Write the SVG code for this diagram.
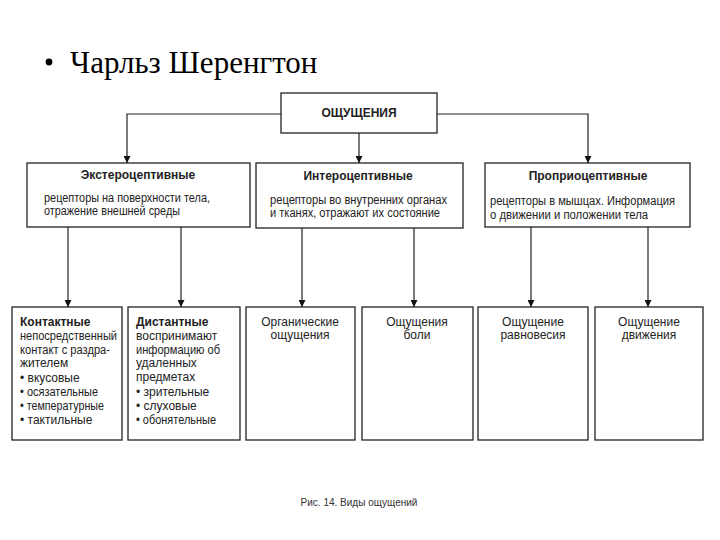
<svg xmlns="http://www.w3.org/2000/svg" width="720" height="540" viewBox="0 0 720 540">
<defs>
<marker id="ah" viewBox="0 0 10 10" refX="10" refY="5" markerWidth="7" markerHeight="7" markerUnits="userSpaceOnUse" orient="auto">
<path d="M0,0 L10,5 L0,10 z" fill="#111"/>
</marker>
<style>
.box{fill:#fff;stroke:#222;stroke-width:1.3}
.ln{fill:none;stroke:#222;stroke-width:1.2;marker-end:url(#ah)}
.t{font-family:"Liberation Sans Narrow","Liberation Sans",Arial,sans-serif;font-size:12px;fill:#222}
.b{font-weight:bold}
.m{text-anchor:middle}
</style>
</defs>
<rect width="720" height="540" fill="#fff"/>
<g id="title">
<circle cx="49" cy="62" r="3.4" fill="#000"/>
<text x="70" y="73" font-family="Liberation Serif,Times New Roman,serif" font-size="31" fill="#000">Чарльз Шеренгтон</text>
</g>
<g id="connectors">
<path class="ln" d="M281,114 H127 V163"/>
<path class="ln" d="M437,114 H588 V163"/>
<path class="ln" d="M359,133 V163"/>
<path class="ln" d="M68,227 V307"/>
<path class="ln" d="M181,227 V307"/>
<path class="ln" d="M302,228 V307"/>
<path class="ln" d="M414,228 V307"/>
<path class="ln" d="M531,227 V307"/>
<path class="ln" d="M648,227 V307"/>
</g>
<g id="n-root">
<rect class="box" x="281" y="93" width="156" height="40"/>
<text class="t b m" x="359" y="117" font-size="13">ОЩУЩЕНИЯ</text>
</g>
<g id="n-extero">
<rect class="box" x="27" y="163" width="223" height="64"/>
<text class="t b m" x="138" y="179">Экстероцептивные</text>
<text class="t" x="44" y="202" textLength="166" lengthAdjust="spacingAndGlyphs">рецепторы на поверхности тела,</text>
<text class="t" x="44" y="215" textLength="136" lengthAdjust="spacingAndGlyphs">отражение внешней среды</text>
</g>
<g id="n-intero">
<rect class="box" x="256" y="163" width="207" height="65"/>
<text class="t b m" x="358" y="180">Интероцептивные</text>
<text class="t" x="270" y="204" textLength="177" lengthAdjust="spacingAndGlyphs">рецепторы во внутренних органах</text>
<text class="t" x="270" y="217" textLength="170" lengthAdjust="spacingAndGlyphs">и тканях, отражают их состояние</text>
</g>
<g id="n-proprio">
<rect class="box" x="485" y="163" width="205" height="64"/>
<text class="t b m" x="588" y="180">Проприоцептивные</text>
<text class="t" x="490" y="205" textLength="185" lengthAdjust="spacingAndGlyphs">рецепторы в мышцах. Информация</text>
<text class="t" x="490" y="219" textLength="158" lengthAdjust="spacingAndGlyphs">о движении и положении тела</text>
</g>
<g id="n-contact">
<rect class="box" x="12" y="307" width="110" height="133"/>
<text class="t b" x="20" y="326">Контактные</text>
<text class="t" x="20" y="340" textLength="97" lengthAdjust="spacingAndGlyphs">непосредственный</text>
<text class="t" x="20" y="354" textLength="90" lengthAdjust="spacingAndGlyphs">контакт с раздра-</text>
<text class="t" x="20" y="367">жителем</text>
<text class="t" x="20" y="382">• вкусовые</text>
<text class="t" x="20" y="396" textLength="78" lengthAdjust="spacingAndGlyphs">• осязательные</text>
<text class="t" x="20" y="410" textLength="84" lengthAdjust="spacingAndGlyphs">• температурные</text>
<text class="t" x="20" y="424">• тактильные</text>
</g>
<g id="n-distant">
<rect class="box" x="128" y="307" width="112" height="133"/>
<text class="t b" x="136" y="326">Дистантные</text>
<text class="t" x="136" y="340">воспринимают</text>
<text class="t" x="136" y="354" textLength="84" lengthAdjust="spacingAndGlyphs">информацию об</text>
<text class="t" x="136" y="367">удаленных</text>
<text class="t" x="136" y="381">предметах</text>
<text class="t" x="136" y="396">• зрительные</text>
<text class="t" x="136" y="410">• слуховые</text>
<text class="t" x="136" y="424" textLength="80" lengthAdjust="spacingAndGlyphs">• обонятельные</text>
</g>
<g id="n-organic">
<rect class="box" x="246" y="307" width="109" height="133"/>
<text class="t m" x="300" y="326">Органические</text>
<text class="t m" x="300" y="339">ощущения</text>
</g>
<g id="n-pain">
<rect class="box" x="362" y="307" width="111" height="133"/>
<text class="t m" x="417" y="326">Ощущения</text>
<text class="t m" x="417" y="339">боли</text>
</g>
<g id="n-balance">
<rect class="box" x="478" y="307" width="110" height="133"/>
<text class="t m" x="533" y="326">Ощущение</text>
<text class="t m" x="533" y="339">равновесия</text>
</g>
<g id="n-motion">
<rect class="box" x="595" y="307" width="108" height="133"/>
<text class="t m" x="649" y="326">Ощущение</text>
<text class="t m" x="649" y="339">движения</text>
</g>
<g id="caption">
<text x="359" y="506" font-family="Liberation Sans,Arial,sans-serif" font-size="10" fill="#333" text-anchor="middle">Рис. 14. Виды ощущений</text>
</g>
</svg>
